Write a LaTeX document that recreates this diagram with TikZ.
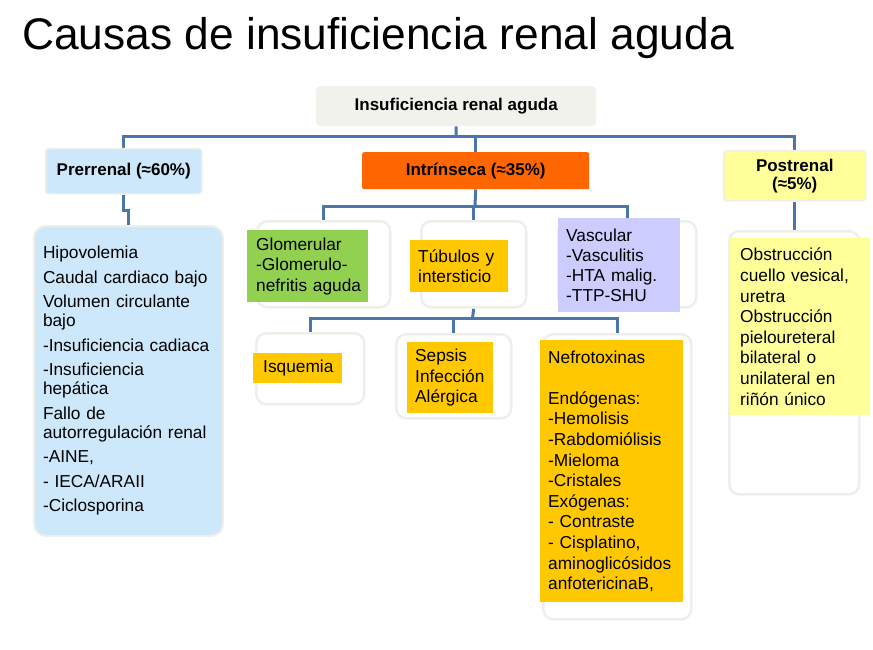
\documentclass[tikz,border=0pt]{standalone}
\usepackage{fontspec}
\setmainfont{Liberation Sans}
\usetikzlibrary{backgrounds}
\definecolor{connc}{HTML}{4A76AC}
\definecolor{framec}{HTML}{EFEFE9}
\definecolor{topc}{HTML}{F2F2EC}
\definecolor{prerc}{HTML}{CCE8FA}
\definecolor{intrc}{HTML}{FF6600}
\definecolor{postc}{HTML}{FFFF99}
\definecolor{greenc}{HTML}{92D050}
\definecolor{goldc}{HTML}{FFC800}
\definecolor{lavc}{HTML}{CCCCFF}
\newcommand{\titlefont}{\fontsize{44.3}{50}\selectfont}
\newcommand{\hdrfont}{\fontsize{17}{18}\selectfont\bfseries}
\newcommand{\bodyfont}{\fontsize{17.3}{20.6}\selectfont}
\newcommand{\listfont}{\fontsize{17.3}{19}\selectfont}
\begin{document}
\begin{tikzpicture}[x=1pt,y=-1pt,
  conn/.style={draw=connc, line width=3pt},
  frame/.style={draw=framec, line width=2.5pt, fill=white, rounded corners=10pt, anchor=north west, inner sep=0pt},
  cbox/.style={anchor=north west, inner ysep=0pt, align=left, font=\bodyfont},
  hdr/.style={anchor=north west, inner sep=0pt, align=center, font=\hdrfont},
]
\useasboundingbox (0,0) rectangle (873,650);

\node[anchor=base west, font=\titlefont, inner sep=0pt] (title) at (22,50) {Causas de insuficiencia renal aguda};

% level 1 and 2 headers
\node[hdr, fill=topc, rounded corners=4pt, minimum width=280pt, minimum height=40pt] (top) at (316,86) {Insuficiencia renal aguda};
\node[hdr, fill=prerc, draw=framec, line width=1.5pt, rounded corners=3pt, minimum width=156pt, minimum height=45pt] (prer) at (45,148) {Prerrenal (≈60\%)};
\node[hdr, fill=intrc, rounded corners=2pt, minimum width=227pt, minimum height=37pt] (intr) at (362,152) {Intrínseca (≈35\%)};
\node[hdr, fill=postc, draw=framec, line width=1.5pt, rounded corners=3pt, minimum width=142pt, minimum height=50pt] (post) at (723,150) {Postrenal\\(≈5\%)};

% prerrenal list
\node[cbox, font=\listfont, fill=prerc, draw=framec, line width=2pt, rounded corners=12pt, minimum width=189pt, minimum height=310pt, text width=171pt, inner xsep=9pt] (plist) at (33,225)
{Hipovolemia\\[5.5pt] Caudal~cardiaco~bajo\\[5.5pt] Volumen~circulante\\ bajo\\[5.5pt] -Insuficiencia~cadiaca\\[5.5pt] -Insuficiencia\\ hepática\\[5.5pt] Fallo~de\\ autorregulación~renal\\[5.5pt] -AINE,\\[5.5pt] -~IECA/ARAII\\[5.5pt] -Ciclosporina};

% intrinseca children
\node[frame, minimum width=133pt, minimum height=86pt] (glof) at (256,220) {};
\node[cbox, fill=greenc, minimum width=121pt, minimum height=72pt, text width=103pt, inner xsep=9pt] (glo) at (247,230) {Glomerular\\ -Glomerulo-\\ nefritis~aguda};

\node[frame, minimum width=105pt, minimum height=86pt] (tubf) at (420,220) {};
\node[cbox, fill=goldc, minimum width=98pt, minimum height=52pt, text width=82pt, inner xsep=8pt] (tub) at (410,240) {Túbulos~y\\ intersticio};

\node[frame, minimum width=138pt, minimum height=86pt] (vasf) at (557,220) {};
\node[cbox, fill=lavc, minimum width=122pt, minimum height=94pt, text width=106pt, inner xsep=8pt, font=\fontsize{17.3}{20}\selectfont] (vas) at (558,218) {Vascular\\ -Vasculitis\\ -HTA~malig.\\ -TTP-SHU};

% tubulos children
\node[frame, minimum width=108pt, minimum height=71pt] (isqf) at (255,332) {};
\node[cbox, fill=goldc, minimum width=89pt, minimum height=30pt, text width=69pt, inner xsep=10pt] (isq) at (253,353) {Isquemia};

\node[frame, minimum width=115pt, minimum height=84pt] (sepf) at (395,333) {};
\node[cbox, fill=goldc, minimum width=86pt, minimum height=71pt, text width=70pt, inner xsep=8pt] (sep) at (407,342) {Sepsis\\ Infección\\ Alérgica};

\node[frame, minimum width=148pt, minimum height=285pt] (nefrof) at (542,333) {};
\node[cbox, fill=goldc, minimum width=143pt, minimum height=262pt, text width=127pt, inner xsep=8pt] (nefro) at (540,340)
{Nefrotoxinas\\[20.6pt] Endógenas:\\ -Hemolisis\\ -Rabdomiólisis\\ -Mieloma\\ -Cristales\\ Exógenas:\\ -~Contraste\\ -~Cisplatino,\\ aminoglicósidos\\ anfotericinaB,};

% postrenal child
\node[frame, minimum width=130pt, minimum height=263pt] (postf) at (728,230) {};
\node[cbox, fill=postc, minimum width=140pt, minimum height=177pt, text width=120pt, inner xsep=10pt] (postl) at (730,238)
{Obstrucción\\ cuello~vesical,\\ uretra\\ Obstrucción\\ pieloureteral\\ bilateral~o\\ unilateral~en\\ riñón~único};

% connectors
\begin{scope}[on background layer]
\coordinate (bus1) at (456,137);
\draw[conn] (top.south) -- (bus1);
\draw[conn] (prer.north) |- (bus1) -| (post.north);
\draw[conn] (intr.north) -- (intr.north |- bus1);
\draw[conn] (prer.south) -- ++(0,16) -| (plist.north);

\coordinate (bus2) at (475,206);
\draw[conn] (intr.south) -- (bus2);
\draw[conn] (glof.north) |- (bus2) -| (vasf.north);
\draw[conn] (tubf.north) -- (tubf.north |- bus2);

\coordinate (bus3) at (472.5,318);
\draw[conn] (tubf.south) -- (bus3);
\draw[conn] (isqf.north) |- (bus3) -| (nefrof.north);
\draw[conn] (sepf.north) -- (sepf.north |- bus3);

\draw[conn] (post.south) -- (post.south |- postf.north);
\end{scope}
\end{tikzpicture}
\end{document}
